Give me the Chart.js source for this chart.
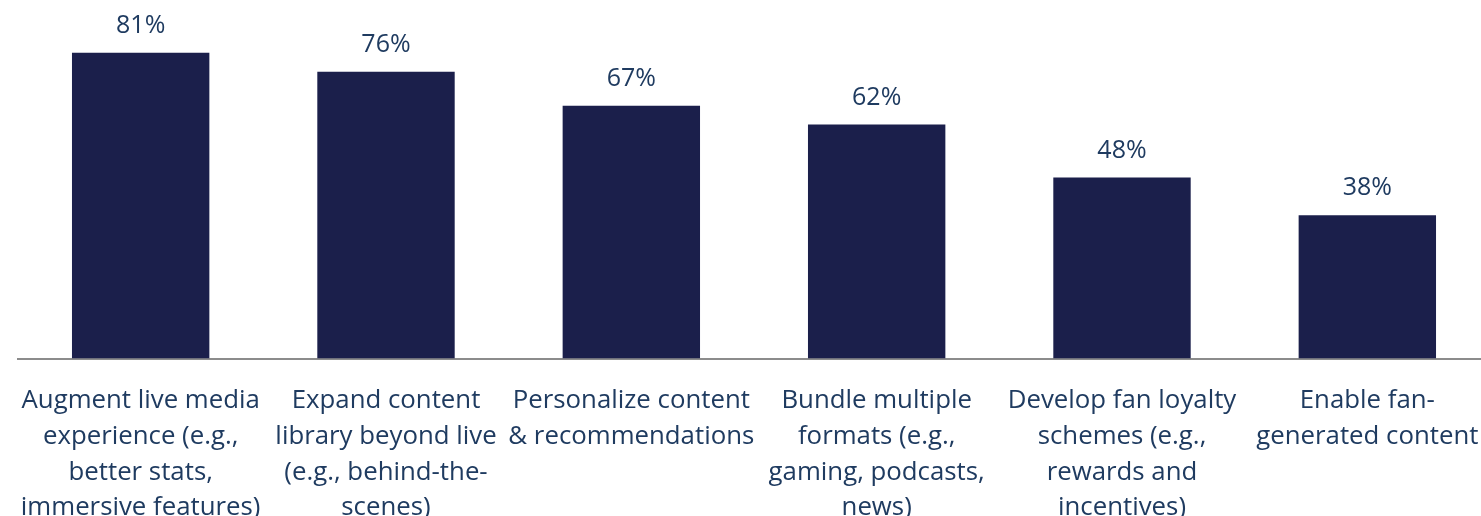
<!DOCTYPE html>
<html>
<head>
<meta charset="utf-8">
<script src="https://cdn.jsdelivr.net/npm/chart.js@4/dist/chart.umd.min.js"></script>
<style>
  html, body { margin: 0; padding: 0; background: #fff; overflow: hidden; }
  #surveyChart { display: block; width: 1490px; height: 550px; }
</style>
</head>
<body>
<canvas id="surveyChart" width="1490" height="550"></canvas>
<script>
// categories (split into lines as in the original)
var categories = [
    ['Augment live media', 'experience (e.g.,', 'better stats,', 'immersive features)'],
    ['Expand content', 'library beyond live', '(e.g., behind-the-', 'scenes)'],
    ['Personalize content', '& recommendations'],
    ['Bundle multiple', 'formats (e.g.,', 'gaming, podcasts,', 'news)'],
    ['Develop fan loyalty', 'schemes (e.g.,', 'rewards and', 'incentives)'],
    ['Enable fan-', 'generated content']
];
var shares = [81, 76, 67, 62, 48, 38];

var textColor = '#1F3B60';
var barColor = '#1B1F4B';

// draw the % value above every bar
const valueLabels = {
    id: 'valueLabels',
    afterDatasetsDraw(chart) {
        const ctx = chart.ctx;
        const meta = chart.getDatasetMeta(0);
        ctx.save();
        ctx.font = '25px "Open Sans"';
        ctx.fillStyle = textColor;
        ctx.textAlign = 'center';
        ctx.textBaseline = 'middle';
        meta.data.forEach((bar, i) => {
            ctx.fillText(shares[i] + '%', bar.x, bar.y - 27);
        });
        ctx.restore();
    }
};

const ctx = document.getElementById('surveyChart').getContext('2d');

let mychart = new Chart(ctx, {
    type: 'bar',
    data: {
        labels: categories,
        datasets: [{
            data: shares,
            backgroundColor: barColor,
            barPercentage: 0.56,
            categoryPercentage: 1.0
        }]
    },
    options: {
        responsive: false,
        animation: false,
        layout: { padding: { left: 18, right: 0, top: 0, bottom: 0 } },
        plugins: {
            legend: { display: false },
            tooltip: { enabled: false }
        },
        scales: {
            x: {
                grid: { display: false, drawTicks: false },
                border: { display: true, color: '#8c8c8c', width: 2 },
                ticks: {
                    color: textColor,
                    font: { family: 'Open Sans', size: 25.8, lineHeight: 1.39 },
                    padding: 24,
                    maxRotation: 0,
                    autoSkip: false
                },
                // labels may run past the edges, like in the original
                afterFit: function (scale) {
                    scale.paddingLeft = 0;
                    scale.paddingRight = 0;
                }
            },
            y: {
                display: false,
                min: 0,
                max: 95
            }
        }
    },
    plugins: [valueLabels]
});
</script>
</body>
</html>
